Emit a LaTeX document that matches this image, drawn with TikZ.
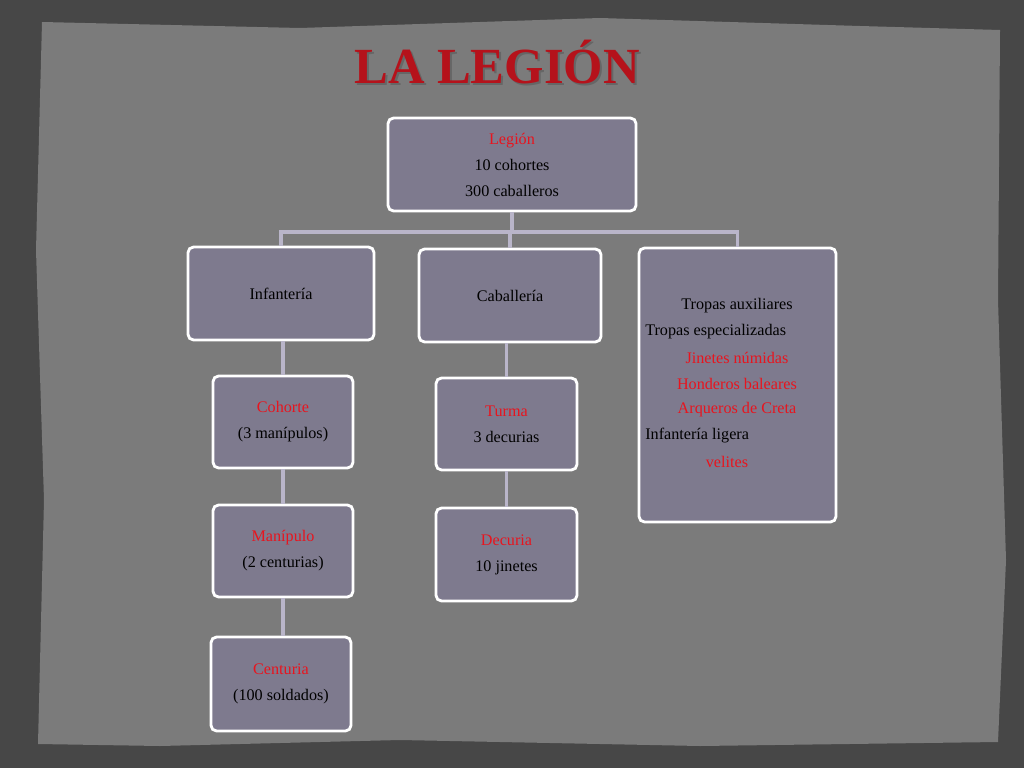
\documentclass[tikz,border=0pt]{standalone}
\usepackage{fontspec}
\setmainfont{Liberation Serif}
\definecolor{boxfill}{HTML}{7E7A8E}
\definecolor{paper}{HTML}{7B7B7B}
\definecolor{outer}{HTML}{474747}
\definecolor{linkc}{HTML}{B9B5C9}
\definecolor{redtxt}{HTML}{E8141E}
\definecolor{titlered}{HTML}{B5121B}
\tikzset{
  unitbox/.style={draw=white,line width=2pt,fill=boxfill,rounded corners=4pt,inner sep=0pt,
    font=\fontsize{11.5}{18.5}\selectfont,align=center},
  conn/.style={draw=linkc,line width=2.5pt},
  lbl/.style={font=\fontsize{11.5}{18.5}\selectfont,align=center,inner sep=0pt},
}
\begin{document}
\begin{tikzpicture}[x=0.025cm,y=-0.025cm]

	% background
	\fill [outer] (0,0) rectangle (1024,768);
	\fill [paper] (42,22) -- (300,28) -- (600,18) -- (860,26) -- (1000,30) -- (998,300)
		-- (1006,560) -- (998,742) -- (700,746) -- (400,740) -- (160,746) -- (38,744)
		-- (44,500) -- (36,250) -- cycle;
	\useasboundingbox (0,0) rectangle (1024,768);

	% title
	\node [font=\fontsize{36}{40}\selectfont\bfseries,text=black!60] at (499,64) {LA LEGIÓN};
	\node (title) [font=\fontsize{36}{40}\selectfont\bfseries,text=titlered] at (497,62) {LA LEGIÓN};

	% boxes
	\coordinate (hub) at (512,232);
	\node (legion) [unitbox,minimum width=6.2cm,minimum height=2.325cm] at (512,164.5)
		{\textcolor{redtxt}{Legión}\\10 cohortes\\300 caballeros};
	\node (inf) [unitbox,minimum width=4.65cm,minimum height=2.325cm] at (281,293.5) {Infantería};
	\node (cab) [unitbox,minimum width=4.55cm,minimum height=2.325cm] at (510,295.5) {Caballería};
	\node (tro) [unitbox,minimum width=4.925cm,minimum height=6.85cm] at (737.5,385) {};
	\node (coh) [unitbox,minimum width=3.5cm,minimum height=2.3cm] at (283,422)
		{\textcolor{redtxt}{Cohorte}\\(3 manípulos)};
	\node (man) [unitbox,minimum width=3.5cm,minimum height=2.3cm] at (283,551)
		{\textcolor{redtxt}{Manípulo}\\(2 centurias)};
	\node (cen) [unitbox,minimum width=3.5cm,minimum height=2.35cm] at (281,684)
		{\textcolor{redtxt}{Centuria}\\(100 soldados)};
	\node (tur) [unitbox,minimum width=3.525cm,minimum height=2.3cm] at (506.5,424)
		{\textcolor{redtxt}{Turma}\\3 decurias};
	\node (dec) [unitbox,minimum width=3.525cm,minimum height=2.325cm] at (506.5,554.5)
		{\textcolor{redtxt}{Decuria}\\10 jinetes};

	% connectors
	\draw [conn] (legion.south) -- (hub) -| (inf.north);
	\draw [conn] (hub) -- (hub -| cab.north) -- (cab.north);
	\draw [conn] (hub) -| (tro.north);
	\draw [conn] (coh.north |- inf.south) -- (coh.north);
	\draw [conn] (coh.south) -- (man.north -| coh.south);
	\draw [conn] (man.south) -- (cen.north -| man.south);
	\draw [conn] (tur.north |- cab.south) -- (tur.north);
	\draw [conn] (tur.south) -- (dec.north);

	% tropas texts
	\node (tro1) [lbl] at (737,306) {Tropas auxiliares};
	\node (tro2) [lbl,anchor=west] at (645,332) {Tropas especializadas};
	\node (tro3) [lbl,text=redtxt] at (737,358) {Jinetes númidas};
	\node (tro4) [lbl,text=redtxt] at (737,384) {Honderos baleares};
	\node (tro5) [lbl,text=redtxt] at (737,410) {Arqueros de Creta};
	\node (tro6) [lbl,anchor=west] at (645,436) {Infantería ligera};
	\node (tro7) [lbl,text=redtxt] at (727,462) {velites};
\end{tikzpicture}
\end{document}
